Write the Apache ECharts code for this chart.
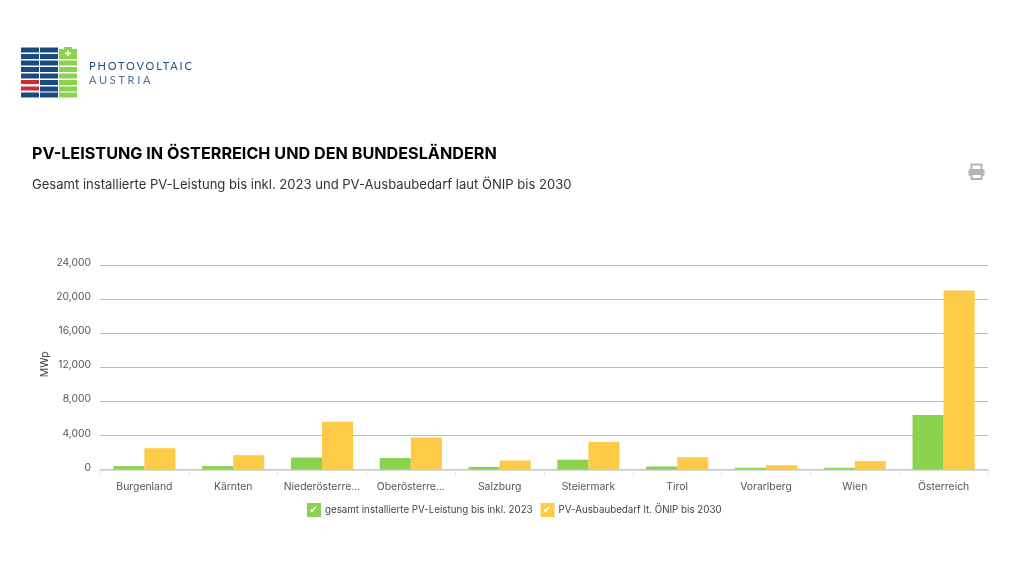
<!DOCTYPE html>
<html>
<head>
<meta charset="utf-8">
<title>PV-Leistung</title>
<script src="https://cdn.jsdelivr.net/npm/echarts@6/dist/echarts.min.js"></script>
<style>
  html, body { margin: 0; padding: 0; background: #fff; }
  #chart { position: absolute; left: 0; top: 0; width: 1024px; height: 576px; }
  .logoText { position: absolute; left: 89px; font: 11px Lato, "Open Sans", sans-serif; line-height: 13px; }
</style>
</head>
<body>
<div id="chart"></div>
<div class="logoText" style="top:59px;color:#1f4f86;letter-spacing:1.85px">PHOTOVOLTAIC</div>
<div class="logoText" style="top:73px;color:#4a7299;letter-spacing:2.7px">AUSTRIA</div>
<script>
const categories = ["Burgenland", "Kärnten", "Niederösterre...", "Oberösterre...", "Salzburg", "Steiermark", "Tirol", "Vorarlberg", "Wien", "Österreich"];
const installed = [400, 400, 1400, 1350, 300, 1150, 350, 200, 200, 6400];
const demand = [2500, 1680, 5600, 3750, 1050, 3250, 1450, 500, 1000, 21000];
const yTicks = [0, 4000, 8000, 12000, 16000, 20000, 24000];

const GREEN = "#8bd24f";
const YELLOW = "#fdcb45";
const BLUE = "#1b4a80";
const RED = "#d8262f";

// logo, drawn by hand
const logo = [];
[47.5, 54, 60.5, 67, 73.5, 80, 86.5, 92.5].forEach((y, i) => {
  [21, 40].forEach(x => {
    const red = x === 21 && (i === 5 || i === 6);
    logo.push({ type: "rect", shape: { x: x, y: y, width: 18, height: red ? 4 : 5 }, style: { fill: red ? RED : BLUE } });
  });
  if (i > 0) {
    logo.push({ type: "rect", shape: { x: 59, y: y, width: 18, height: 5 }, style: { fill: GREEN } });
  }
});
logo.push({ type: "rect", shape: { x: 59, y: 49, width: 18, height: 9 }, style: { fill: GREEN } });
logo.push({ type: "rect", shape: { x: 64, y: 47, width: 8, height: 3 }, style: { fill: GREEN } });
logo.push({ type: "rect", shape: { x: 65, y: 52.5, width: 6, height: 1.6 }, style: { fill: "#fff" } });
logo.push({ type: "rect", shape: { x: 67.2, y: 50.4, width: 1.6, height: 5.8 }, style: { fill: "#fff" } });

// printer icon
const printer = [
  { type: "rect", shape: { x: 971.5, y: 164.5, width: 10, height: 6 }, style: { fill: "#fff", stroke: "#b5b5b5", lineWidth: 2 } },
  { type: "rect", shape: { x: 968.5, y: 169, width: 16, height: 7, r: 1.5 }, style: { fill: "#b5b5b5" } },
  { type: "rect", shape: { x: 971.5, y: 174, width: 10, height: 5 }, style: { fill: "#fff", stroke: "#b5b5b5", lineWidth: 2 } }
];

// white ticks on the legend markers
const legendChecks = [313.5, 547].map(x => ({
  type: "text",
  z: 20,
  x: x,
  y: 510,
  style: { text: "✔", fill: "#fff", font: "10px 'DejaVu Sans'", align: "center", verticalAlign: "middle" }
}));

const chart = echarts.init(document.getElementById("chart"));
chart.setOption({
  animation: false,
  textStyle: { fontFamily: "Inter" },
  title: {
    left: 27,
    top: 140,
    text: "PV-LEISTUNG IN ÖSTERREICH UND DEN BUNDESLÄNDERN",
    textStyle: { fontFamily: "Inter", fontSize: 16.2, fontWeight: 700, color: "#000", lineHeight: 18 },
    subtext: "Gesamt installierte PV-Leistung bis inkl. 2023 und PV-Ausbaubedarf laut ÖNIP bis 2030",
    subtextStyle: { fontFamily: "Inter", fontSize: 13.05, color: "#333", lineHeight: 16 },
    itemGap: 14
  },
  legend: {
    top: 498,
    left: 302,
    itemWidth: 14,
    itemHeight: 14,
    itemGap: 8,
    icon: "rect",
    selectedMode: false,
    textStyle: { fontFamily: "Inter", fontSize: 9.75, color: "#444", padding: [0, 0, 0, -1] }
  },
  grid: { left: 100, right: 36, top: 265, bottom: 106.5 },
  xAxis: {
    type: "category",
    data: categories,
    axisLine: { lineStyle: { color: "#ccd0d0", width: 1.5 } },
    axisTick: { show: true, length: 6, lineStyle: { color: "#e4e6e6" } },
    axisLabel: { interval: 0, fontSize: 10.4, color: "#555", margin: 12 }
  },
  yAxis: {
    type: "value",
    min: yTicks[0],
    max: yTicks[yTicks.length - 1],
    interval: yTicks[1] - yTicks[0],
    name: "MWp",
    nameLocation: "middle",
    nameGap: 50,
    nameMoveOverlap: false,
    nameTextStyle: { fontSize: 10.5, color: "#444", padding: [0, 0, 0, 6] },
    axisLine: { show: false },
    axisTick: { show: false },
    axisLabel: { fontSize: 10.3, color: "#555", margin: 9, verticalAlign: "bottom", lineHeight: 4, formatter: v => v.toLocaleString("en-US") },
    splitLine: { lineStyle: { color: "#aebfc0", width: 1 } }
  },
  series: [
    { name: "gesamt installierte PV-Leistung bis inkl. 2023", type: "bar", data: installed, barGap: 0, barCategoryGap: "30%", itemStyle: { color: GREEN }, z: 3 },
    { name: "PV-Ausbaubedarf lt. ÖNIP bis 2030", type: "bar", data: demand, itemStyle: { color: YELLOW }, z: 3 }
  ],
  graphic: logo.concat(printer, legendChecks)
});
</script>
</body>
</html>
